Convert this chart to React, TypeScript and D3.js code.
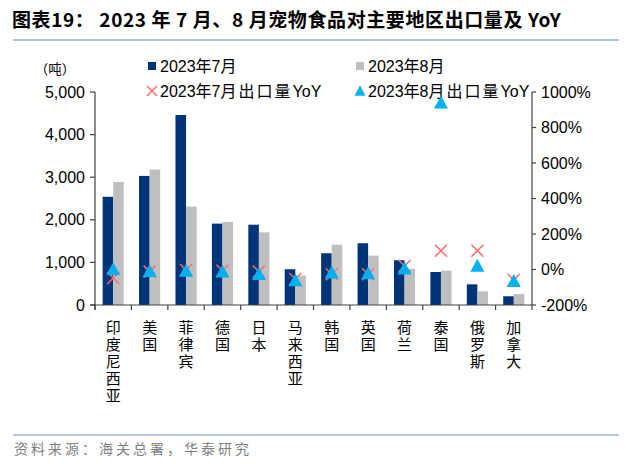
import React from "react";
import * as d3 from "d3";

const categories = ["印度尼西亚", "美国", "菲律宾", "德国", "日本", "马来西亚", "韩国", "英国", "荷兰", "泰国", "俄罗斯", "加拿大"];
const julyVol = [2540, 3030, 4460, 1910, 1885, 840, 1215, 1450, 1050, 775, 485, 205];
const augVol = [2890, 3180, 2310, 1950, 1705, 690, 1415, 1160, 850, 805, 320, 258];
const julyYoY = [-48, -12, -3, -7, -12, -54, -27, -27, 20, 106, 106, -59];
const augYoY = [2, -9, -7, -12, -25, -61, -17, -22, 5, 940, 21, -65];
const leftTicks = [0, 1000, 2000, 3000, 4000, 5000];
const rightTicks = [-200, 0, 200, 400, 600, 800, 1000];

const NAVY = "#003478";
const GREY = "#BFBFBF";
const RED = "#FF6B6B";
const CYAN = "#00B0F0";
const AXIS = "#404040";
const NUM_FONT = "'Liberation Sans', Arial, sans-serif";
const CJK_FONT = "'Noto Sans CJK SC', 'Liberation Sans', sans-serif";

export default function App() {
  const W = 640, H = 464;
  const left = 95, right = 532, top = 92, bottom = 305;
  const x = d3.scaleBand<string>().domain(categories).range([left, right]).padding(0);
  const yL = d3.scaleLinear().domain([0, 5000]).range([bottom, top]);
  const yR = d3.scaleLinear().domain([-200, 1000]).range([bottom, top]);
  const bw = x.bandwidth() * 0.29;
  const fmt = d3.format(",");

  const tri = (cx: number, cy: number, s = 7) =>
    `M${cx},${cy - s} L${cx + s},${cy + s * 0.85} L${cx - s},${cy + s * 0.85} Z`;
  const cross = (cx: number, cy: number, s = 6) =>
    `M${cx - s},${cy - s} L${cx + s},${cy + s} M${cx + s},${cy - s} L${cx - s},${cy + s}`;

  return (
    <svg width={W} height={H} style={{ position: "absolute", left: 0, top: 0, background: "#fff" }}>
      <rect width={W} height={H} fill="#fff" />
      {/* Title */}
      <text x={12} y={27} fontFamily={CJK_FONT} fontSize={19} fontWeight="bold" fill="#000" letterSpacing={0.6}>
        图表19：  2023 年 7 月、8 月宠物食品对主要地区出口量及 YoY
      </text>
      <line x1={13} x2={619} y1={40} y2={40} stroke="#6F8FC0" strokeWidth={1.2} />

      {/* Unit */}
      <text x={55} y={74} textAnchor="middle" fontFamily={CJK_FONT} fontSize={13.5} fill="#000">（吨）</text>

      {/* Legend */}
      <g fontFamily={NUM_FONT} fontSize={16} fill="#000">
        <rect x={148} y={62} width={8} height={8} fill={NAVY} />
        <text x={160} y={72}>2023<tspan fontFamily={CJK_FONT}>年</tspan>7<tspan fontFamily={CJK_FONT}>月</tspan></text>
        <rect x={356} y={62} width={8} height={8} fill={GREY} />
        <text x={368} y={72}>2023<tspan fontFamily={CJK_FONT}>年</tspan>8<tspan fontFamily={CJK_FONT}>月</tspan></text>
        <path d={cross(152, 91, 5)} stroke={RED} strokeWidth={1.5} fill="none" />
        <text x={160} y={97}>2023<tspan fontFamily={CJK_FONT}>年</tspan>7<tspan fontFamily={CJK_FONT} letterSpacing={2}>月出口量</tspan>YoY</text>
        <path d={tri(360, 91, 5.5)} fill={CYAN} />
        <text x={368} y={97}>2023<tspan fontFamily={CJK_FONT}>年</tspan>8<tspan fontFamily={CJK_FONT} letterSpacing={2}>月出口量</tspan>YoY</text>
      </g>

      {/* Bars */}
      {categories.map((c, i) => {
        const cx = (x(c) as number) + x.bandwidth() / 2;
        return (
          <g key={c}>
            <rect x={cx - bw} y={yL(julyVol[i])} width={bw} height={bottom - yL(julyVol[i])} fill={NAVY} />
            <rect x={cx} y={yL(augVol[i])} width={bw} height={bottom - yL(augVol[i])} fill={GREY} />
          </g>
        );
      })}

      {/* Markers */}
      {categories.map((c, i) => {
        const cx = (x(c) as number) + x.bandwidth() / 2;
        return (
          <g key={"m" + c}>
            <path d={cross(cx, yR(julyYoY[i]))} stroke={RED} strokeWidth={1.5} fill="none" />
            <path d={tri(cx, yR(augYoY[i]))} fill={CYAN} />
          </g>
        );
      })}

      {/* Left axis */}
      <line x1={left} x2={left} y1={top} y2={bottom + 5} stroke={AXIS} strokeWidth={1.2} />
      {leftTicks.map((t) => (
        <g key={"l" + t}>
          <line x1={left - 5} x2={left} y1={yL(t)} y2={yL(t)} stroke={AXIS} strokeWidth={1.2} />
          <text x={left - 10} y={yL(t) + 5.5} textAnchor="end" fontFamily={NUM_FONT} fontSize={16} fill="#000">
            {fmt(t)}
          </text>
        </g>
      ))}

      {/* Right axis */}
      <line x1={right} x2={right} y1={top} y2={bottom + 5} stroke={AXIS} strokeWidth={1.2} />
      {rightTicks.map((t) => (
        <g key={"r" + t}>
          <line x1={right} x2={right + 4} y1={yR(t)} y2={yR(t)} stroke={AXIS} strokeWidth={1.2} />
          <text x={right + 9} y={yR(t) + 5.5} fontFamily={NUM_FONT} fontSize={16} fill="#000">
            {t}%
          </text>
        </g>
      ))}

      {/* Bottom axis */}
      <line x1={left - 5} x2={right} y1={bottom} y2={bottom} stroke={AXIS} strokeWidth={1.2} />
      {categories.map((c) => (
        <line key={"bt" + c} x1={x(c) as number} x2={x(c) as number} y1={bottom} y2={bottom + 5} stroke={AXIS} strokeWidth={1.2} />
      ))}
      {categories.map((c) => {
        const cx = (x(c) as number) + x.bandwidth() / 2;
        return (
          <text
            key={"xl" + c}
            x={cx}
            y={320}
            fontFamily={CJK_FONT}
            fontSize={15}
            fill="#000"
            letterSpacing={2}
            style={{ writingMode: "vertical-rl", textOrientation: "upright" } as React.CSSProperties}
          >
            {c}
          </text>
        );
      })}

      {/* Footer */}
      <line x1={13} x2={619} y1={435} y2={435} stroke="#6F8FC0" strokeWidth={1.2} />
      <text x={14} y={454} fontFamily={CJK_FONT} fontSize={14} fill="#7F7F7F" letterSpacing={3}>资料来源：海关总署，华泰研究</text>
    </svg>
  );
}
